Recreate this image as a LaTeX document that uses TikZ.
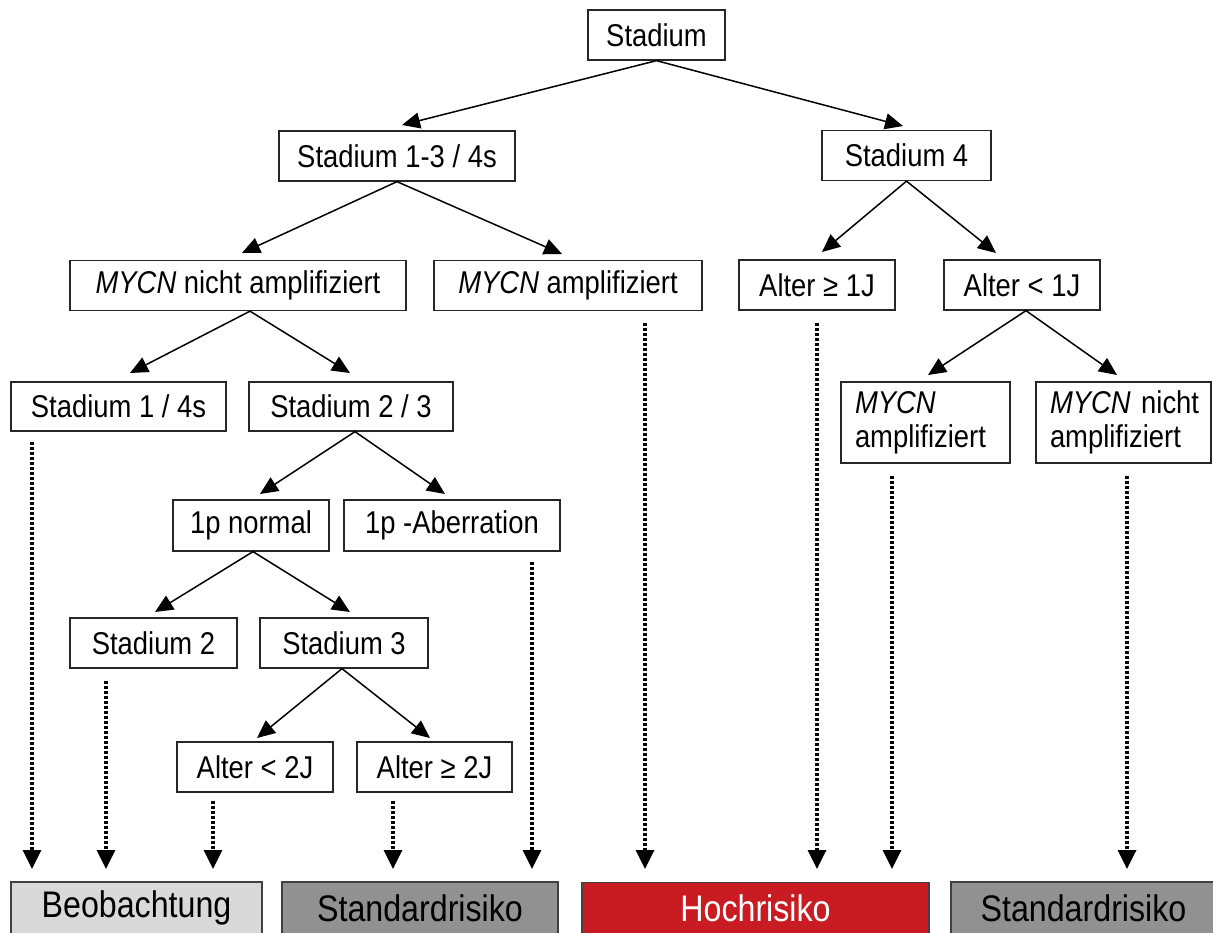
\documentclass[tikz,border=0pt]{standalone}
\usepackage{fontspec}
\setmainfont{Liberation Sans}[FakeStretch=0.87]
\usetikzlibrary{arrows.meta,calc}
\definecolor{hred}{RGB}{200,28,34}
\definecolor{lgray}{RGB}{217,217,217}
\definecolor{mgray}{RGB}{145,145,145}
\begin{document}
\begin{tikzpicture}[x=1pt,y=-1pt,
  box/.style={draw=black!85, line width=1.3pt, rectangle, inner xsep=16pt, inner ysep=0pt,
    minimum height=50pt, font=\fontsize{31.5}{34}\selectfont},
  twobox/.style={box, align=left, inner xsep=14pt, minimum height=81pt},
  bbox/.style={draw=black!75, line width=1.3pt, rectangle, inner sep=0pt,
    minimum height=52pt, font=\fontsize{37}{40}\selectfont},
  arr/.style={-{Triangle[length=18pt,width=16pt]}, line width=1.5pt},
  darr/.style={-{Triangle[length=19pt,width=18pt]}, line width=3.4pt, dash pattern=on 3pt off 2pt}]
\useasboundingbox (0,0) rectangle (1213,932);

% tree nodes
\node[box, minimum width=137pt] (st) at (656.5,35) {Stadium};
\node[box, minimum width=236pt] (s13) at (397,156) {Stadium 1-3 / 4s};
\node[box, minimum width=169pt] (s4) at (906.5,155.5) {Stadium 4};
\node[box, minimum width=336pt] (mn) at (238,285.5) {\textit{MYCN} nicht amplifiziert};
\node[box, minimum width=268pt] (ma) at (568,285.5) {\textit{MYCN} amplifiziert};
\node[box, minimum width=156pt] (a1g) at (817,285) {Alter ≥ 1J};
\node[box, minimum width=156pt] (a1l) at (1022,285) {Alter < 1J};
\node[box, minimum width=215pt, minimum height=49pt] (s14) at (118.5,406.5) {Stadium 1 / 4s};
\node[box, minimum width=204pt, minimum height=49pt] (s23) at (351,406.5) {Stadium 2 / 3};
\node[box, minimum width=156pt, minimum height=51pt] (pn) at (251,525.5) {1p normal};
\node[box, minimum width=216pt, minimum height=51pt] (pa) at (452,525.5) {1p -Aberration};
\node[twobox, text width=141pt] (m2a) at (925.5,422.5) {\textit{MYCN}\\amplifiziert};
\node[twobox, text width=147pt] (m2n) at (1123.5,422.5) {\mbox{\textit{MYCN} nicht}\\amplifiziert};
\node[box, minimum width=167pt] (s2) at (153.5,643) {Stadium 2};
\node[box, minimum width=168pt] (s3) at (344,643) {Stadium 3};
\node[box, minimum width=156pt] (a2l) at (255,767) {Alter < 2J};
\node[box, minimum width=155pt] (a2g) at (434.5,767) {Alter ≥ 2J};

% outcome nodes
\node[bbox, fill=lgray, minimum width=251pt] (beo) at (136.5,908) {Beobachtung};
\node[bbox, fill=mgray, minimum width=276pt] (std1) at (420,908) {Standardrisiko};
\node[bbox, fill=hred, text=white, minimum width=347pt] (hoch) at (755.5,908.5) {Hochrisiko};
\node[bbox, fill=mgray, minimum width=265pt] (std2) at (1083.5,908) {Standardrisiko};

% arrow tip coordinates
\coordinate (t1) at (402,125);
\coordinate (t2) at (903,126);
\coordinate (t3) at (242,253);
\coordinate (t4) at (562,254);
\coordinate (t5) at (822,252);
\coordinate (t6) at (996,253);
\coordinate (t7) at (130,373);
\coordinate (t8) at (350,373);
\coordinate (t9) at (260,494);
\coordinate (t10) at (445,494);
\coordinate (t11) at (155,612);
\coordinate (t12) at (350,612);
\coordinate (t13) at (257,738);
\coordinate (t14) at (430,738);
\coordinate (t15) at (928,375);
\coordinate (t16) at (1117,375);

\draw[arr] (st.south) -- (t1);
\draw[arr] (st.south) -- (t2);
\draw[arr] (s13.south) -- (t3);
\draw[arr] (s13.south) -- (t4);
\draw[arr] (s4.south) -- (t5);
\draw[arr] (s4.south) -- (t6);
\draw[arr] ([xshift=12pt]mn.south) -- (t7);
\draw[arr] ([xshift=12pt]mn.south) -- (t8);
\draw[arr] ([xshift=4pt]s23.south) -- (t9);
\draw[arr] ([xshift=4pt]s23.south) -- (t10);
\draw[arr] ([xshift=2pt]pn.south) -- (t11);
\draw[arr] ([xshift=2pt]pn.south) -- (t12);
\draw[arr] ([xshift=-2pt]s3.south) -- (t13);
\draw[arr] ([xshift=-2pt]s3.south) -- (t14);
\draw[arr] ([xshift=4pt]a1l.south) -- (t15);
\draw[arr] ([xshift=4pt]a1l.south) -- (t16);

% dotted arrows to outcomes
\coordinate (b1) at (32,869);
\coordinate (b2) at (106,869);
\coordinate (b3) at (213,869);
\coordinate (b4) at (393,869);
\coordinate (b5) at (532,869);
\coordinate (b6) at (645,869);
\coordinate (b7) at (817,869);
\coordinate (b8) at (892,869);
\coordinate (b9) at (1127,869);

\draw[darr] ($(s14.south -| b1)+(0,10)$) -- (b1);
\draw[darr] ($(s2.south -| b2)+(0,12)$) -- (b2);
\draw[darr] ($(a2l.south -| b3)+(0,8)$) -- (b3);
\draw[darr] ($(a2g.south -| b4)+(0,8)$) -- (b4);
\draw[darr] ($(pa.south -| b5)+(0,10)$) -- (b5);
\draw[darr] ($(ma.south -| b6)+(0,12)$) -- (b6);
\draw[darr] ($(a1g.south -| b7)+(0,12)$) -- (b7);
\draw[darr] ($(m2a.south -| b8)+(0,12)$) -- (b8);
\draw[darr] ($(m2n.south -| b9)+(0,12)$) -- (b9);
\end{tikzpicture}
\end{document}
